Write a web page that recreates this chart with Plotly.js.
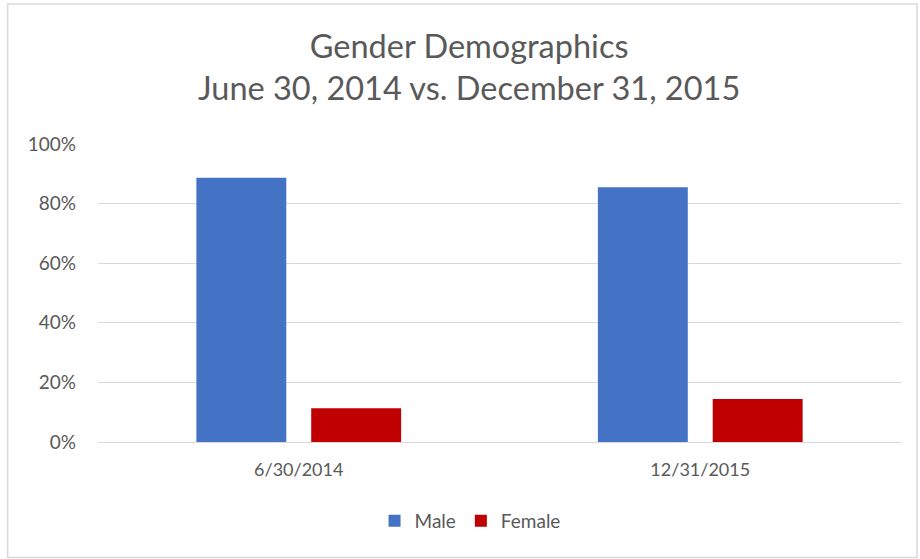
<!DOCTYPE html>
<html><head><meta charset="utf-8">
<script src="https://cdn.plot.ly/plotly-3.0.1.min.js"></script>
<style>html,body{margin:0;padding:0;background:#fff}#c{width:920px;height:559px}</style>
</head><body><div id="c"></div>
<script>
const categories = ["6/30/2014", "12/31/2015"];
const maleValues = [0.887, 0.855];
const femaleValues = [0.113, 0.144];
const seriesNames = ["Male", "Female"];
const tickVals = [0, 0.2, 0.4, 0.6, 0.8, 1.0];
const tickText = ["0%", "20%", "40%", "60%", "80%", "100%"];
const titleLines = ["Gender Demographics", "June 30, 2014 vs. December 31, 2015"];

const font = "Lato, 'Open Sans', 'Liberation Sans', sans-serif";
const L = 97.5, T = 144, PW = 804, PH = 298;
const data = [
  {type:"bar", name:seriesNames[0], x:categories, y:maleValues, marker:{color:"#4472c4"}, hoverinfo:"none"},
  {type:"bar", name:seriesNames[1], x:categories, y:femaleValues, marker:{color:"#c00000"}, hoverinfo:"none"}
];
const layout = {
  width:920, height:559,
  margin:{l:L, r:920-L-PW, t:T, b:559-T-PH},
  paper_bgcolor:"#fff", plot_bgcolor:"#fff",
  font:{family:font, color:"#595959"},
  barmode:"group", bargap:0.428, bargroupgap:0.217,
  xaxis:{type:"category", showgrid:false, showline:true, linecolor:"#d9d9d9", linewidth:1, ticks:"", ticklabelstandoff:11, tickfont:{size:18, color:"#595959"}, zeroline:false},
  yaxis:{range:[0,1], tickvals:tickVals, ticktext:tickText, showgrid:true, gridcolor:"#d9d9d9", gridwidth:1, zeroline:false, showline:false, ticks:"", ticklabelstandoff:21, tickfont:{size:19, color:"#595959"}},
  showlegend:true,
  legend:{orientation:"h", x:(470-L)/PW, xanchor:"center", y:(T+PH-521)/PH, yanchor:"middle", font:{size:19, color:"#595959"}, itemwidth:30, traceorder:"normal"},
  annotations:[{text:titleLines.join("<br>"), xref:"paper", yref:"paper", x:(469-L)/PW, xanchor:"center", y:(T+PH-24)/PH, yanchor:"top", showarrow:false, font:{size:32.5, color:"#595959", family:font}}],
  shapes:[{type:"rect", xref:"paper", yref:"paper", x0:(7-L)/PW, x1:(917.5-L)/PW, y0:(T+PH-557.5)/PH, y1:(T+PH-4)/PH, line:{color:"#d9d9d9", width:1.5}, fillcolor:"rgba(0,0,0,0)", layer:"below"}]
};
Plotly.newPlot("c", data, layout, {staticPlot:true, displayModeBar:false});
</script></body></html>
